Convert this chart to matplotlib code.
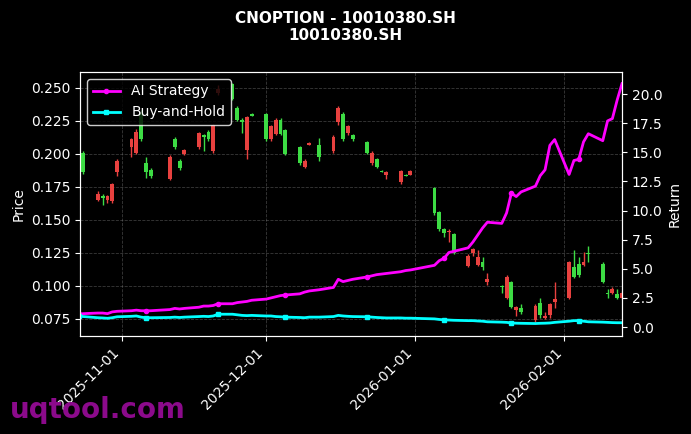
import numpy as np
import pandas as pd
import matplotlib
matplotlib.use("Agg")
import matplotlib.pyplot as plt
import matplotlib.dates as mdates

# daily bars: date, open, close, high, low
dates = ["2025-10-23", "2025-10-24", "2025-10-27", "2025-10-28", "2025-10-29", "2025-10-30", "2025-10-31",
         "2025-11-03", "2025-11-04", "2025-11-05", "2025-11-06", "2025-11-07", "2025-11-11", "2025-11-12",
         "2025-11-13", "2025-11-14", "2025-11-17", "2025-11-18", "2025-11-19", "2025-11-20", "2025-11-21",
         "2025-11-24", "2025-11-25", "2025-11-26", "2025-11-27", "2025-11-28", "2025-12-01", "2025-12-02",
         "2025-12-03", "2025-12-04", "2025-12-05", "2025-12-08", "2025-12-09", "2025-12-10", "2025-12-12",
         "2025-12-15", "2025-12-16", "2025-12-17", "2025-12-18", "2025-12-19", "2025-12-22", "2025-12-23",
         "2025-12-24", "2025-12-25", "2025-12-26", "2025-12-29", "2025-12-30", "2025-12-31", "2026-01-05",
         "2026-01-06", "2026-01-07", "2026-01-08", "2026-01-09", "2026-01-12", "2026-01-13", "2026-01-14",
         "2026-01-15", "2026-01-16", "2026-01-19", "2026-01-20", "2026-01-21", "2026-01-22", "2026-01-23",
         "2026-01-26", "2026-01-27", "2026-01-28", "2026-01-29", "2026-01-30", "2026-02-02", "2026-02-03",
         "2026-02-04", "2026-02-05", "2026-02-06", "2026-02-09", "2026-02-10", "2026-02-11", "2026-02-12",
         "2026-02-13"]
opens = [0.220, 0.201, 0.165, 0.168, 0.165, 0.164, 0.186, 0.205, 0.201, 0.231, 0.193, 0.188, 0.181, 0.211,
         0.195, 0.200, 0.205, 0.214, 0.217, 0.202, 0.246, 0.253, 0.235, 0.226, 0.203, 0.230, 0.230, 0.211,
         0.215, 0.226, 0.218, 0.205, 0.190, 0.207, 0.207, 0.202, 0.224, 0.230, 0.216, 0.214, 0.209, 0.193,
         0.196, 0.187, 0.184, 0.179, 0.184, 0.184, 0.174, 0.156, 0.143, 0.141, 0.139, 0.115, 0.125, 0.116,
         0.118, 0.103, 0.100, 0.091, 0.103, 0.082, 0.083, 0.074, 0.087, 0.076, 0.078, 0.088, 0.091, 0.114,
         0.117, 0.116, 0.125, 0.117, 0.095, 0.095, 0.094, 0.091]
closes = [0.209, 0.186, 0.170, 0.167, 0.168, 0.177, 0.195, 0.211, 0.217, 0.211, 0.186, 0.183, 0.198, 0.205,
          0.189, 0.203, 0.216, 0.213, 0.211, 0.222, 0.249, 0.242, 0.226, 0.224, 0.228, 0.229, 0.211, 0.221,
          0.226, 0.215, 0.200, 0.193, 0.195, 0.208, 0.198, 0.213, 0.235, 0.211, 0.221, 0.211, 0.201, 0.201,
          0.190, 0.186, 0.186, 0.187, 0.183, 0.187, 0.155, 0.143, 0.140, 0.142, 0.125, 0.123, 0.128, 0.122,
          0.114, 0.105, 0.099, 0.107, 0.084, 0.084, 0.080, 0.085, 0.078, 0.077, 0.086, 0.090, 0.118, 0.107,
          0.108, 0.118, 0.1245, 0.103, 0.094, 0.098, 0.091, 0.095]
highs = [0.222, 0.202, 0.172, 0.170, 0.169, 0.178, 0.196, 0.212, 0.219, 0.233, 0.198, 0.189, 0.199, 0.213,
         0.196, 0.204, 0.217, 0.215, 0.218, 0.223, 0.252, 0.254, 0.236, 0.227, 0.229, 0.231, 0.231, 0.222,
         0.227, 0.227, 0.219, 0.206, 0.196, 0.209, 0.212, 0.214, 0.236, 0.232, 0.222, 0.215, 0.210, 0.202,
         0.197, 0.188, 0.187, 0.188, 0.185, 0.188, 0.175, 0.157, 0.144, 0.143, 0.140, 0.124, 0.129, 0.127,
         0.122, 0.110, 0.101, 0.108, 0.104, 0.085, 0.086, 0.086, 0.091, 0.080, 0.087, 0.103, 0.119, 0.127,
         0.122, 0.126, 0.130, 0.118, 0.098, 0.099, 0.098, 0.096]
lows = [0.207, 0.185, 0.164, 0.161, 0.163, 0.163, 0.183, 0.198, 0.200, 0.210, 0.182, 0.182, 0.180, 0.204,
        0.188, 0.199, 0.204, 0.202, 0.210, 0.201, 0.245, 0.241, 0.225, 0.216, 0.196, 0.229, 0.210, 0.210,
        0.214, 0.214, 0.199, 0.192, 0.189, 0.207, 0.195, 0.201, 0.222, 0.210, 0.214, 0.210, 0.200, 0.192,
        0.189, 0.186, 0.181, 0.177, 0.183, 0.184, 0.154, 0.142, 0.137, 0.133, 0.124, 0.114, 0.123, 0.115,
        0.112, 0.101, 0.095, 0.090, 0.083, 0.077, 0.079, 0.073, 0.076, 0.075, 0.076, 0.083, 0.090, 0.106,
        0.107, 0.115, 0.118, 0.102, 0.091, 0.094, 0.090, 0.090]

ai_return = [1.1, 1.15, 1.2, 1.2, 1.15, 1.3, 1.35, 1.4, 1.45, 1.4, 1.4, 1.4, 1.5, 1.6, 1.55, 1.6, 1.7, 1.8,
             1.8, 1.85, 2.0, 2.0, 2.1, 2.15, 2.2, 2.3, 2.4, 2.5, 2.6, 2.7, 2.75, 2.85, 3.0, 3.1, 3.2, 3.4,
             4.1, 3.9, 4.0, 4.1, 4.3, 4.4, 4.5, 4.55, 4.6, 4.75, 4.85, 4.9, 5.3, 5.7, 5.9, 6.4, 6.5, 6.8,
             7.3, 7.9, 8.5, 9.0, 8.9, 9.8, 11.5, 11.2, 11.6, 12.1, 13.0, 13.5, 15.6, 16.1, 13.1, 14.3, 14.4,
             15.9, 16.6, 16.0, 17.7, 17.9, 19.5, 20.9]
bh_return = [0.95, 0.9, 0.8, 0.78, 0.75, 0.8, 0.88, 0.92, 0.95, 0.85, 0.8, 0.8, 0.82, 0.85, 0.82, 0.85,
             0.9, 0.92, 0.9, 0.95, 1.1, 1.1, 1.05, 1.0, 0.98, 1.0, 0.95, 0.95, 0.9, 0.88, 0.85, 0.82, 0.8,
             0.85, 0.85, 0.9, 1.0, 0.95, 0.92, 0.9, 0.88, 0.85, 0.82, 0.8, 0.78, 0.78, 0.76, 0.76, 0.7,
             0.65, 0.62, 0.6, 0.58, 0.55, 0.55, 0.52, 0.5, 0.45, 0.42, 0.4, 0.35, 0.33, 0.32, 0.3, 0.32,
             0.33, 0.35, 0.4, 0.5, 0.55, 0.55, 0.5, 0.45, 0.42, 0.4, 0.38, 0.37, 0.37]

x = mdates.date2num(pd.to_datetime(dates))
up_color = "#e8413f"
down_color = "#3ddc44"

fig = plt.figure(figsize=(6.91, 4.34), dpi=100, facecolor="black")
ax = fig.add_axes([80 / 691, 1 - 336 / 434, 542 / 691, 264 / 434])
ax.set_facecolor("black")

for xi, o, c, h, l in zip(x, opens, closes, highs, lows):
    col = up_color if c >= o else down_color
    ax.vlines(xi, l, h, color=col, linewidth=1, zorder=2)
    ax.bar(xi, abs(c - o) if abs(c - o) > 0.0008 else 0.0008, bottom=min(o, c), width=0.8,
           color=col, zorder=3)

ax.set_xlim(mdates.date2num(pd.Timestamp("2025-10-23 07:00")), mdates.date2num(pd.Timestamp("2026-02-13")))
ax.set_ylim(0.0621, 0.2621)
ax.set_yticks([0.075, 0.100, 0.125, 0.150, 0.175, 0.200, 0.225, 0.250])
ax.yaxis.set_major_formatter(plt.FuncFormatter(lambda v, p: f"{v:.3f}"))
ax.xaxis.set_major_locator(mdates.MonthLocator())
ax.xaxis.set_major_formatter(mdates.DateFormatter("%Y-%m-%d"))
ax.grid(True, color="gray", linestyle="--", linewidth=0.6, alpha=0.45)
ax.set_ylabel("Price", color="white")
for lab in ax.get_xticklabels():
    lab.set_rotation(45)
    lab.set_ha("right")

ax2 = ax.twinx()
ax2.plot(x, ai_return, color="#ff00ff", linewidth=2, marker="o", markersize=3, markevery=10, label="AI Strategy")
ax2.plot(x, bh_return, color="#00ffff", linewidth=2, marker="s", markersize=3, markevery=10, label="Buy-and-Hold")
ax2.set_ylim(-0.77, 21.9)
ax2.set_yticks(np.arange(0, 21, 2.5))
ax2.set_ylabel("Return", color="white")

for a in (ax, ax2):
    a.tick_params(colors="white", labelsize=10)
    for s in a.spines.values():
        s.set_color("white")

leg = ax2.legend(loc="upper left", facecolor="black", edgecolor="white", labelcolor="white", fontsize=10)
leg.get_frame().set_alpha(0.8)

fig.suptitle("CNOPTION - 10010380.SH\n10010380.SH", color="white", fontsize=11, fontweight="bold", y=0.975)
fig.text(10 / 691, 1 - 410 / 434, "uqtool.com", color="#8b0a8b", fontsize=20, fontweight="bold",
         va="center", ha="left")

fig.savefig("out.png", dpi=100, facecolor="black")
